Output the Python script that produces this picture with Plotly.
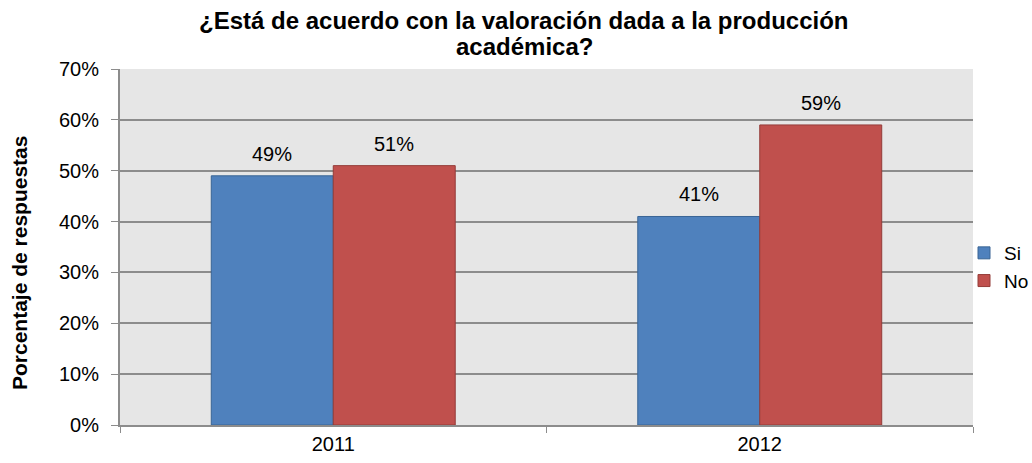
import plotly.graph_objects as go

years = ["2011", "2012"]
si_values = [49, 41]
no_values = [51, 59]
y_ticks = [0, 10, 20, 30, 40, 50, 60, 70]
y_tick_labels = [f"{v}%" for v in y_ticks]

FONT = "Liberation Sans, Arial, sans-serif"
BARGAP = 0.428

fig = go.Figure()
fig.add_trace(go.Bar(
    name="Si", x=years, y=si_values,
    marker=dict(color="#4f81bd", line=dict(color="#3a6595", width=1)),
))
fig.add_trace(go.Bar(
    name="No", x=years, y=no_values,
    marker=dict(color="#c0504d", line=dict(color="#943c39", width=1)),
))

# value labels above each bar, centred on the bar
half = (1 - BARGAP) / 4
annotations = []
for offset, vals in ((-half, si_values), (half, no_values)):
    for i, v in enumerate(vals):
        annotations.append(dict(
            x=i + offset, y=v, xref="x", yref="y", text=f"{v}%",
            showarrow=False, yshift=22,
            font=dict(family=FONT, size=20, color="#000000"),
        ))

# two-line bold title
title_x = (524 - 120) / 853
annotations.append(dict(
    text="<b>¿Está de acuerdo con la valoración dada a la producción</b>",
    xref="paper", yref="paper", x=title_x, y=1.0,
    yanchor="middle", yshift=69 - 20, showarrow=False,
    font=dict(family=FONT, size=24, color="#000000"),
))
annotations.append(dict(
    text="<b>académica?</b>",
    xref="paper", yref="paper", x=title_x, y=1.0,
    yanchor="middle", yshift=69 - 46, showarrow=False,
    font=dict(family=FONT, size=24, color="#000000"),
))

# vertical axis title
annotations.append(dict(
    text="<b>Porcentaje de respuestas</b>",
    xref="paper", yref="paper", x=(19 - 120) / 853, y=(425 - 263) / 356,
    xanchor="center", yanchor="middle", textangle=-90, showarrow=False,
    font=dict(family=FONT, size=21, color="#000000"),
))

fig.update_layout(
    width=1032, height=463,
    margin=dict(l=120, r=59, t=69, b=38, autoexpand=False),
    paper_bgcolor="white",
    plot_bgcolor="#e6e6e6",
    barmode="group",
    bargap=BARGAP,
    bargroupgap=0,
    font=dict(family=FONT, size=20, color="#000000"),
    showlegend=True,
    legend=dict(
        x=(964 - 120) / 853, xanchor="left", y=(425 - 267) / 356, yanchor="middle",
        font=dict(family=FONT, size=19, color="#000000"),
        bgcolor="rgba(0,0,0,0)", itemwidth=30, tracegroupgap=0,
    ),
    annotations=annotations,
)

fig.update_xaxes(
    type="category", tickson="boundaries", ticks="outside", ticklen=6,
    tickcolor="#8c8c8c", showline=True, linecolor="#8c8c8c", linewidth=2,
    showgrid=False, tickfont=dict(family=FONT, size=20),
)
fig.update_yaxes(
    range=[0, 70], tickvals=y_ticks, ticktext=y_tick_labels,
    ticks="outside", ticklen=7, tickcolor="#8c8c8c", ticklabelstandoff=8,
    showline=True, linecolor="#8c8c8c", linewidth=2,
    showgrid=True, gridcolor="#8c8c8c", gridwidth=1.5,
    zeroline=False, tickfont=dict(family=FONT, size=20),
)

fig.write_html("out.html")
